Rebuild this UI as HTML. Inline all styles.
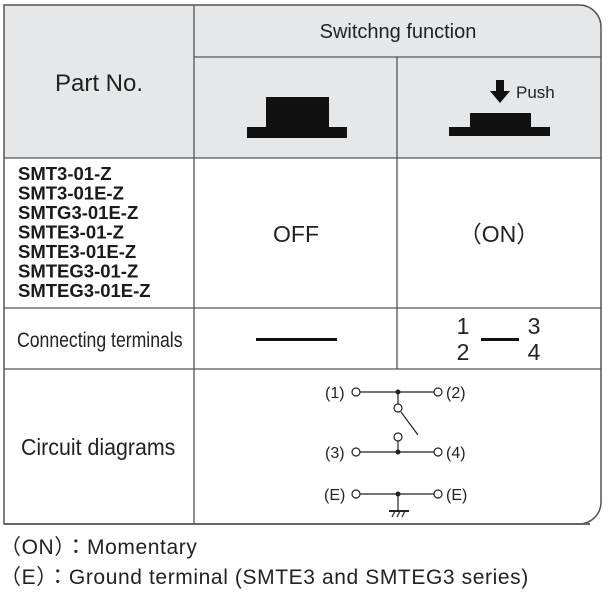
<!DOCTYPE html>
<html><head><meta charset="utf-8"><style>
html,body{margin:0;padding:0;background:#fff;}
body{width:609px;height:592px;overflow:hidden;font-family:"Liberation Sans",Arial,sans-serif;}
</style></head><body>
<svg width="609" height="592" viewBox="0 0 609 592" xmlns="http://www.w3.org/2000/svg" font-family="Liberation Sans, Arial, sans-serif">
<path d="M4 5 H579 A22 22 0 0 1 601 27 V158 H4 Z" fill="#e6e7e8"/>
<path d="M4 5 H579 A22 22 0 0 1 601 27 V502 A22 22 0 0 1 579 524 H4 Z" fill="none" stroke="#555" stroke-width="1.5"/>
<g stroke="#555" stroke-width="1.3">
<line x1="194" y1="5" x2="194" y2="524"/>
<line x1="397" y1="57" x2="397" y2="369"/>
<line x1="194" y1="57" x2="601" y2="57"/>
<line x1="4" y1="158" x2="601" y2="158"/>
<line x1="4" y1="308" x2="601" y2="308"/>
<line x1="4" y1="369" x2="601" y2="369"/>
</g>
<line x1="4" y1="524" x2="590" y2="524" stroke="#666" stroke-width="2"/>
<text x="398" y="38" font-size="20" text-anchor="middle" fill="#222">Switchng function</text>
<text x="99" y="91" font-size="24" text-anchor="middle" fill="#222">Part No.</text>
<rect x="247" y="127" width="100" height="11" fill="#111"/>
<rect x="266" y="97" width="63" height="31" fill="#111"/>
<rect x="449" y="127" width="101" height="9" fill="#111"/>
<rect x="470" y="113" width="61" height="15" fill="#111"/>
<rect x="496" y="80" width="8" height="12" fill="#111"/>
<polygon points="490,91 510,91 500,103" fill="#111"/>
<text x="516" y="98" font-size="17" fill="#222">Push</text>
<g font-size="18.5" font-weight="bold" fill="#1a1a1a">
<text x="18" y="180">SMT3-01-Z</text>
<text x="18" y="199.5">SMT3-01E-Z</text>
<text x="18" y="219">SMTG3-01E-Z</text>
<text x="18" y="238.5">SMTE3-01-Z</text>
<text x="18" y="258">SMTE3-01E-Z</text>
<text x="18" y="277.5">SMTEG3-01-Z</text>
<text x="18" y="297">SMTEG3-01E-Z</text>
</g>
<text x="296" y="242" font-size="23" text-anchor="middle" fill="#222">OFF</text>
<text x="499" y="242" font-size="23" text-anchor="middle" fill="#222" font-family="Liberation Sans, Noto Sans CJK JP, sans-serif">（ON）</text>
<text x="17" y="347" font-size="21" fill="#222" transform="translate(17 0) scale(0.84 1) translate(-17 0)">Connecting terminals</text>
<rect x="256" y="338" width="81" height="3" fill="#111"/>
<g font-size="23" fill="#222" text-anchor="middle">
<text x="463" y="334">1</text><text x="534" y="334">3</text>
<text x="463" y="360">2</text><text x="534" y="360">4</text>
</g>
<rect x="481" y="338" width="38" height="3" fill="#111"/>
<text x="21" y="455" font-size="23" fill="#222" transform="translate(21 0) scale(0.93 1) translate(-21 0)">Circuit diagrams</text>
<g stroke="#222" stroke-width="1.2" fill="none">
<line x1="360" y1="392" x2="434" y2="392"/>
<line x1="360" y1="452" x2="434" y2="452"/>
<line x1="360" y1="494" x2="434" y2="494"/>
<circle cx="356" cy="392" r="4" fill="#fff"/><circle cx="438" cy="392" r="4" fill="#fff"/>
<circle cx="356" cy="452" r="4" fill="#fff"/><circle cx="438" cy="452" r="4" fill="#fff"/>
<circle cx="356" cy="494" r="4" fill="#fff"/><circle cx="438" cy="494" r="4" fill="#fff"/>
<line x1="398" y1="392" x2="398" y2="404"/>
<circle cx="398" cy="408" r="4" fill="#fff"/>
<line x1="401" y1="412" x2="418" y2="435"/>
<circle cx="398" cy="437" r="4" fill="#fff"/>
<line x1="398" y1="441" x2="398" y2="452"/>
<line x1="398" y1="494" x2="398" y2="511"/>
<line x1="389" y1="511" x2="409" y2="511" stroke-width="2"/>
<line x1="392" y1="517" x2="395" y2="511"/><line x1="397" y1="517" x2="400" y2="511"/><line x1="402" y1="517" x2="405" y2="511"/>
</g>
<g fill="#222"><circle cx="398" cy="392" r="2.5"/><circle cx="398" cy="452" r="2.5"/><circle cx="398" cy="494" r="2.5"/></g>
<g font-size="16" fill="#222">
<text x="325" y="398">(1)</text><text x="446" y="398">(2)</text>
<text x="325" y="458">(3)</text><text x="446" y="458">(4)</text>
<text x="324" y="500">(E)</text><text x="446" y="500">(E)</text>
</g>
<g font-size="21" fill="#222" font-family="Liberation Sans, Noto Sans CJK JP, sans-serif" letter-spacing="0.6">
<text x="0" y="554">（ON）：Momentary</text>
<text x="0" y="584">（E）：Ground terminal (SMTE3 and SMTEG3 series)</text>
</g>
</svg>
</body></html>
